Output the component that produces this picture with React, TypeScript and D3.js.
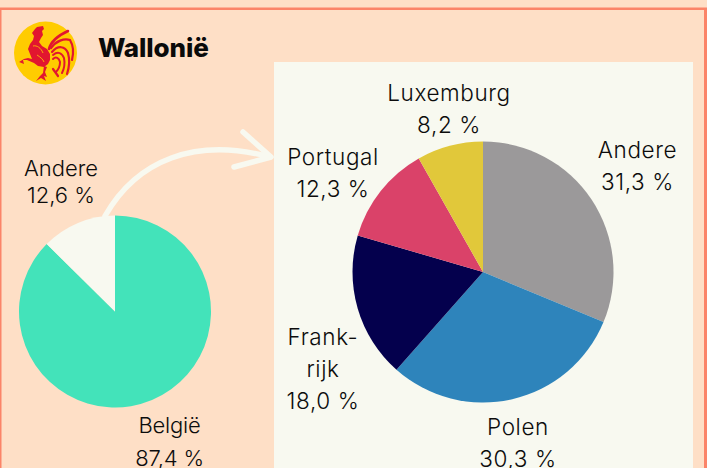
import React from "react";
import * as d3 from "d3";

// shares in %, clockwise from 12 o'clock
const belgiumLabels = ["België", "Andere"];
const belgiumValues = [87.4, 12.6];
const abroadLabels = ["Andere", "Polen", "Frankrijk", "Portugal", "Luxemburg"];
const abroadValues = [31.3, 30.3, 18.0, 12.3, 8.2];

const belgiumColors = ["#43E3BA", "#F8F9F0"];
const abroadColors = ["#9B999A", "#2E84BB", "#04004D", "#DA4269", "#E1C83A"];

const W = 707;
const H = 468;
const font = "Inter, 'Noto Sans', sans-serif";
const ink = "#0c0c0c";

const pie = d3.pie<number>().sort(null);

type PieProps = { cx: number; cy: number; r: number; values: number[]; colors: string[]; names: string[] };

const Pie = ({ cx, cy, r, values, colors, names }: PieProps) => {
  const arc = d3.arc<d3.PieArcDatum<number>>().innerRadius(0).outerRadius(r);
  return (
    <g transform={`translate(${cx},${cy})`}>
      {pie(values).map((d, i) => (
        <path key={names[i]} d={arc(d) ?? ""} fill={colors[i]} />
      ))}
    </g>
  );
};

type LabelProps = { x: number; y: number; lines: string[]; lh?: number; spacing?: number; size?: number };

const Label = ({ x, y, lines, lh = 32, spacing = 0.6, size = 22.5 }: LabelProps) => (
  <text x={x} y={y} textAnchor="middle" fontFamily={font} fontSize={size} fontWeight={350} fill={ink} letterSpacing={spacing}>
    {lines.map((l, i) => (
      <tspan key={i} x={x} y={y + i * lh}>
        {l}
      </tspan>
    ))}
  </text>
);

// the Walloon cock, rough outline
const Rooster = () => (
  <g>
    <circle cx={45.5} cy={53} r={31.5} fill="#FFCC00" />
    <g fill="#E2162F">
      <path d="M35 29 L37 27 L43 26 L44 29 L42 31 L43 35 L41 38 L39 42 L42 46 L47 49 L50 54 L50 60 L48 64 L44 67 L38 66 L34 63 L27 60 L23 60 L24 64 L19 62 L24 59 L28 58 L32 59 L30 54 L28 49 L30 44 L33 40 L34 36 L32 33 Z" />
      <path d="M44 66 L47 67 L45 72 L47 77 L44 76 L46 81 L41 78 L36 81 L40 76 L43 73 Z" />
    </g>
    <g fill="none" stroke="#E2162F" strokeLinecap="round">
      <path d="M49 49 C51 41 57 36 68 31" strokeWidth={2.6} />
      <path d="M51 48 C56 41 64 38 70 40 C73 45 74 52 72 60" strokeWidth={2.2} />
      <path d="M52 52 C58 45 65 46 68 53 C70 60 69 68 67 74" strokeWidth={2.2} />
      <path d="M53 55 C58 51 62 53 64 58 C65 63 64 69 62 73" strokeWidth={2} />
      <path d="M53 59 C56 56 59 58 60 62 C60 66 58 70 56 72" strokeWidth={2} />
      <path d="M53 69 L58 76" strokeWidth={2.2} />
    </g>
    <g fill="none" stroke="#FFCC00" strokeWidth={0.8}>
      <path d="M33 46 C37 45 41 48 43 53" />
      <path d="M37 55 C40 57 43 59 44 62" />
    </g>
  </g>
);

export default function App() {
  return (
    <svg
      width={W}
      height={H}
      viewBox={`0 0 ${W} ${H}`}
      style={{ position: "absolute", left: 0, top: 0, display: "block" }}
    >
      <rect width={W} height={H} fill="#FEDFC6" />
      <rect x={0} y={7.5} width={W} height={2.5} fill="#FB8468" />
      <rect x={0} y={8} width={1.5} height={H} fill="#FB8468" />
      <rect x={704} y={8} width={3} height={H} fill="#FB8468" />
      <rect x={274} y={62} width={419} height={H - 62} fill="#F8F9F0" />

      <Rooster />
      <text x={98} y={56.5} fontFamily={font} fontSize={26} fontWeight={800} fill="#0a0a0a" letterSpacing={-0.1}>
        Wallonië
      </text>

      <Pie cx={115} cy={311.5} r={96} values={belgiumValues} colors={belgiumColors} names={belgiumLabels} />
      <Pie cx={483} cy={272} r={130.5} values={abroadValues} colors={abroadColors} names={abroadLabels} />

      <path d="M105 216 C137 160 195 137 270 157" fill="none" stroke="#F8F9F0" strokeWidth={5.5} strokeLinecap="round" />
      <path d="M243 132 L271 157 L234 167" fill="none" stroke="#F8F9F0" strokeWidth={5.5} strokeLinecap="round" strokeLinejoin="round" />

      <Label x={61} y={176} lines={[belgiumLabels[1], "12,6 %"]} lh={27} spacing={0} size={22} />
      <Label x={169.5} y={433} lines={[belgiumLabels[0], "87,4 %"]} lh={33} spacing={-0.2} size={22} />
      <Label x={449} y={101} lines={[abroadLabels[4], "8,2 %"]} />
      <Label x={333} y={165} lines={[abroadLabels[3], "12,3 %"]} />
      <Label x={637.5} y={158} lines={[abroadLabels[0], "31,3 %"]} />
      <Label x={323} y={345} lines={["Frank-", "rijk", "18,0 %"]} />
      <Label x={518} y={435} lines={[abroadLabels[1], "30,3 %"]} />
    </svg>
  );
}
